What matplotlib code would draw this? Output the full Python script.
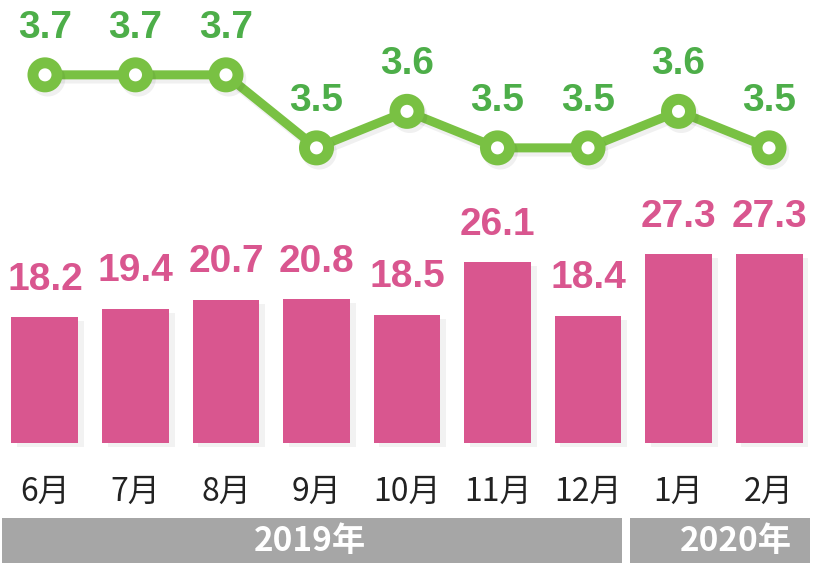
import matplotlib
matplotlib.use("Agg")
import matplotlib.pyplot as plt
import matplotlib.patheffects as pe
from matplotlib import font_manager
from matplotlib.patches import Rectangle

months = ["6月", "7月", "8月", "9月", "10月", "11月", "12月", "1月", "2月"]
bar_values = [18.2, 19.4, 20.7, 20.8, 18.5, 26.1, 18.4, 27.3, 27.3]
line_values = [3.7, 3.7, 3.7, 3.5, 3.6, 3.5, 3.5, 3.6, 3.5]
years = ["2019年", "2020年"]

PINK = "#D9568F"
GREEN_LINE = "#79C143"
GREEN_TEXT = "#4DAE49"
GRAY = "#A6A6A6"
CJK = ["Noto Sans CJK JP", "DejaVu Sans"]

# narrow bold face for the numbers if there is one
try:
    font_manager.findfont("Liberation Sans Narrow", fallback_to_default=False)
    num_font, num_size = "Liberation Sans Narrow", 33
except Exception:
    num_font, num_size = "Liberation Sans", 28

fig = plt.figure(figsize=(8.13, 5.63), dpi=100)
ax = fig.add_axes([0, 0, 1, 1])
ax2 = fig.add_axes([0, 0, 1, 1])
for a in (ax, ax2):
    a.set_xlim(-0.497, 8.486)
    a.axis("off")
ax2.patch.set_visible(False)
ax.set_ylim(-17.34, 64.0)
ax2.set_ylim(2.363, 3.905)

x = list(range(len(months)))

bars = ax.bar(x, bar_values, width=0.74, color=PINK, zorder=2)
for b in bars:
    b.set_path_effects([pe.SimplePatchShadow(offset=(4, -3), shadow_rgbFace="#000000", alpha=0.05),
                        pe.Normal()])
for xi, v in zip(x, bar_values):
    ax.annotate(f"{v:.1f}", (xi, v), xytext=(0, 27), textcoords="offset points",
                ha="center", va="center", color=PINK, fontsize=num_size,
                fontweight="bold", family=num_font)

ax2.plot(x, line_values, color=GREEN_LINE, lw=6.5, marker="o", ms=17.3, mew=7.9,
         mec=GREEN_LINE, mfc="white", solid_joinstyle="round", zorder=3,
         path_effects=[pe.SimpleLineShadow(offset=(2, -3), alpha=0.06), pe.Normal()])
for xi, v in zip(x, line_values):
    ax2.annotate(f"{v:.1f}", (xi, v), xytext=(0, 34), textcoords="offset points",
                 ha="center", va="center", color=GREEN_TEXT, fontsize=num_size,
                 fontweight="bold", family=num_font)

# month labels
for xi, m in zip(x, months):
    ax.text(xi, 0.126, m, transform=ax.get_xaxis_transform(), ha="center", va="center",
            fontsize=23, color="#222222", family=CJK)

# year bands
band_h = 45 / 563
band_x = [(-0.475, 6.376), (6.464, 8.453)]
text_x = [2.93, 7.64]
for (x0, x1), tx, yr in zip(band_x, text_x, years):
    ax.add_patch(Rectangle((x0, 0), x1 - x0, band_h, transform=ax.get_xaxis_transform(),
                           color=GRAY, lw=0, zorder=1, clip_on=False))
    ax.text(tx, 0.038, yr, transform=ax.get_xaxis_transform(), ha="center", va="center",
            fontsize=24, fontweight="bold", color="white", family=CJK, zorder=2)

fig.savefig("out.png", dpi=100)
